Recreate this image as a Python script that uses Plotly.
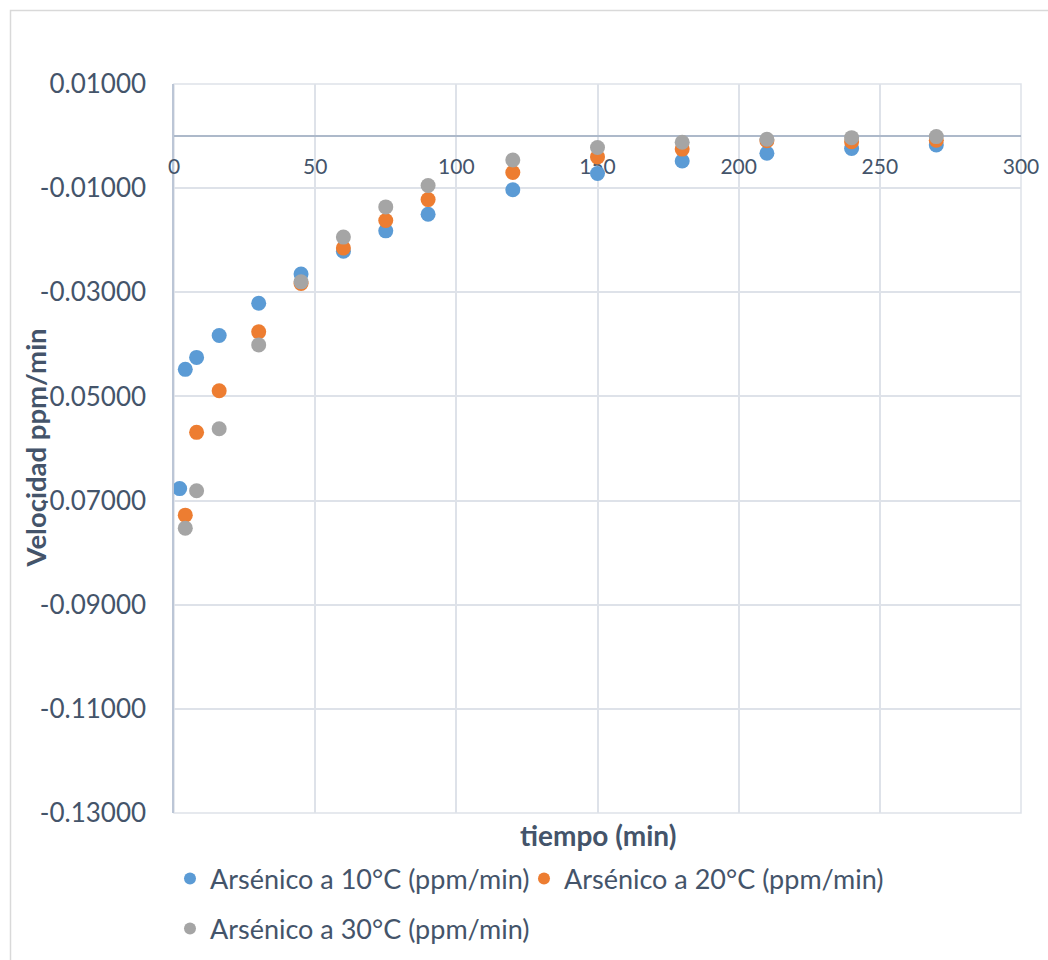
import plotly.graph_objects as go

# Reaction rate of arsenic removal over time at three temperatures
tiempo_10 = [2, 4, 8, 16, 30, 45, 60, 75, 90, 120, 150, 180, 210, 240, 270]
vel_10 = [-0.0677, -0.0448, -0.0425, -0.0383, -0.0321, -0.0265, -0.0221, -0.0182,
          -0.0150, -0.0103, -0.0072, -0.0048, -0.0033, -0.0024, -0.0017]

tiempo_20 = [4, 8, 16, 30, 45, 60, 75, 90, 120, 150, 180, 210, 240, 270]
vel_20 = [-0.0728, -0.0569, -0.0489, -0.0376, -0.0283, -0.0215, -0.0162, -0.0122,
          -0.0070, -0.0040, -0.0025, -0.0009, -0.0011, -0.0008]

tiempo_30 = [4, 8, 16, 30, 45, 60, 75, 90, 120, 150, 180, 210, 240, 270]
vel_30 = [-0.0753, -0.0681, -0.0562, -0.0401, -0.0280, -0.0194, -0.0136, -0.0095,
          -0.0046, -0.0022, -0.0012, -0.0006, -0.0003, -0.0001]

series_names = ["Arsénico a 10°C (ppm/min)", "Arsénico a 20°C (ppm/min)",
                "Arsénico a 30°C (ppm/min)"]
series_colors = ["#5B9BD5", "#ED7D31", "#A5A5A5"]

y_tick_vals = [0.01, -0.01, -0.03, -0.05, -0.07, -0.09, -0.11, -0.13]
y_tick_text = ["0.01000", "-0.01000", "-0.03000", "-0.05000", "-0.07000",
               "-0.09000", "-0.11000", "-0.13000"]
x_tick_vals = [0, 50, 100, 150, 200, 250, 300]

x_range = [0, 300]
y_range = [-0.13, 0.01]

FONT = "Lato"
TEXT = "#44546A"
GRID = "#DEE2E9"
AXIS = "#ADB9CA"

W, H = 1048, 960
ML, MR, MT, MB = 174, 27, 84, 147
PW, PH = W - ML - MR, H - MT - MB


def px_x(p):
    return (p - ML) / PW


def px_y(p):
    return (H - MB - p) / PH


fig = go.Figure()
legend_ids = ["legend", "legend2", "legend3"]
for t, v, name, color, lg in zip([tiempo_10, tiempo_20, tiempo_30],
                                 [vel_10, vel_20, vel_30],
                                 series_names, series_colors, legend_ids):
    fig.add_trace(go.Scatter(
        x=t, y=v, mode="markers", name=name, legend=lg,
        marker=dict(color=color, size=15, line=dict(width=0)),
    ))

# x axis crosses the value axis at zero
x_cross = (0 - y_range[0]) / (y_range[1] - y_range[0])

# legends are placed in container coordinates so they do not resize the plot
legend_common = dict(
    font=dict(family=FONT, size=27, color=TEXT),
    bgcolor="rgba(0,0,0,0)", borderwidth=0,
    itemsizing="constant", xanchor="left", yanchor="middle",
    xref="container", yref="container",
)

fig.update_layout(
    width=W, height=H,
    margin=dict(l=ML, r=MR, t=MT, b=MB, autoexpand=False),
    paper_bgcolor="white", plot_bgcolor="white",
    font=dict(family=FONT, color=TEXT),
    showlegend=True,
    xaxis=dict(
        range=x_range, tickvals=x_tick_vals, ticks="",
        showgrid=True, gridcolor=GRID, gridwidth=1.5,
        showline=True, linecolor=AXIS, linewidth=1.5,
        zeroline=False, anchor="free", position=x_cross,
        layer="below traces",
        tickfont=dict(family=FONT, size=21, color=TEXT),
        ticklabelstandoff=12,
    ),
    yaxis=dict(
        range=y_range, tickvals=y_tick_vals, ticktext=y_tick_text, ticks="",
        showgrid=True, gridcolor=GRID, gridwidth=1.5,
        showline=True, linecolor="#BCC6D6", linewidth=1.5,
        zeroline=False, layer="below traces",
        tickfont=dict(family=FONT, size=26, color=TEXT),
        ticklabelstandoff=21,
    ),
    legend=dict(x=170 / W, y=1 - 879 / H, **legend_common),
    legend2=dict(x=524 / W, y=1 - 879 / H, **legend_common),
    legend3=dict(x=170 / W, y=1 - 929 / H, **legend_common),
    annotations=[
        dict(text="<b>tiempo (min)</b>", xref="paper", yref="paper",
             x=0.5, y=px_y(835), xanchor="center", yanchor="middle",
             showarrow=False,
             font=dict(family=FONT, size=28, color=TEXT)),
        dict(text="<b>Velocidad ppm/min</b>", xref="paper", yref="paper",
             x=px_x(35), y=0.5, xanchor="center", yanchor="middle",
             textangle=-90, showarrow=False,
             font=dict(family=FONT, size=27.5, color=TEXT)),
    ],
    shapes=[
        # outer chart frame
        dict(type="rect", xref="paper", yref="paper",
             x0=px_x(10.5), x1=px_x(1060), y0=px_y(980), y1=px_y(10.5),
             line=dict(color="#D9D9D9", width=1.5), fillcolor="rgba(0,0,0,0)",
             layer="below"),
        # plot-area frame along the outer gridlines
        dict(type="rect", xref="paper", yref="paper",
             x0=0, x1=1, y0=0, y1=1,
             line=dict(color=GRID, width=1.5), fillcolor="rgba(0,0,0,0)",
             layer="below"),
    ],
)

fig.write_html("out.html")
